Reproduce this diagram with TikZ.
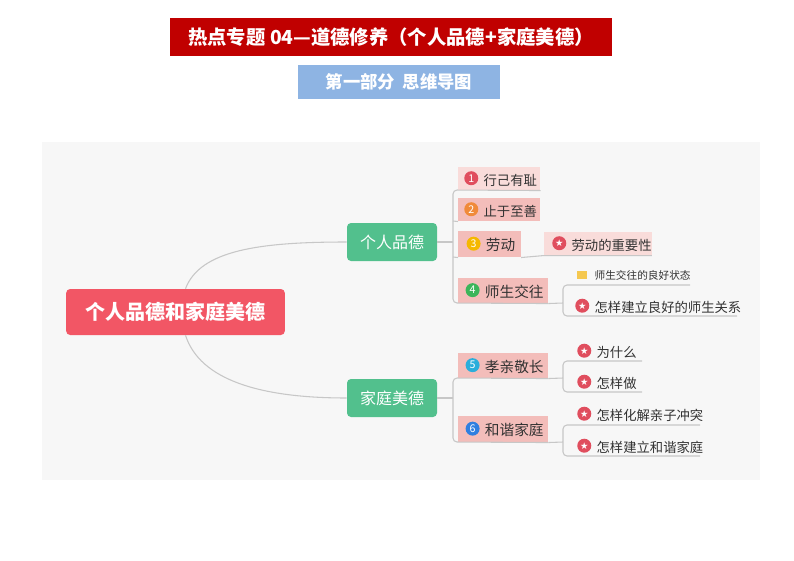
\documentclass[tikz,border=0pt]{standalone}
\usepackage{fontspec}
\setmainfont{Noto Sans CJK SC}
\newfontfamily\djv{DejaVu Sans}
\definecolor{starred}{HTML}{E04E5E}
\definecolor{pkA}{HTML}{F9DCDA}
\definecolor{pkB}{HTML}{F3BDBA}
\definecolor{grn}{HTML}{52C08D}
\definecolor{ttl}{HTML}{C00000}
\definecolor{subb}{HTML}{8EB4E3}
\definecolor{rootc}{HTML}{F25665}
\definecolor{nA}{HTML}{F08A3A}
\definecolor{nB}{HTML}{F5B800}
\definecolor{nC}{HTML}{3CB55A}
\definecolor{nD}{HTML}{2AAEDB}
\definecolor{nE}{HTML}{2F7FE0}
\definecolor{fox}{HTML}{F5C850}
\begin{document}
\begin{tikzpicture}[x=0.75pt,y=-0.75pt,
  ln/.style={draw=black!22,line width=0.8pt},
  leaf/.style={anchor=north west,inner sep=0pt,minimum height=#1*0.75pt,font=\fontsize{10}{10}\selectfont,text=black!80},
  main/.style={rounded corners=3pt,text=white,font=\fontsize{12}{12}\selectfont,inner sep=0pt,minimum width=67.5pt,minimum height=28.5pt},
  num/.style={circle,fill=#1,inner sep=0pt,minimum size=10.5pt,text=white,font=\fontsize{8}{8}\selectfont},
  star/.style={circle,fill=starred,inner sep=0pt,minimum size=10.5pt,text=white,font=\djv\fontsize{7}{7}\selectfont}]
\useasboundingbox (0,0) rectangle (794,561);
\fill[white] (0,0) rectangle (794,561);
% title
\node[fill=ttl,text=white,font=\bfseries\fontsize{14.5}{14.5}\selectfont,minimum width=331.5pt,minimum height=28.5pt,inner sep=0pt] (title) at (391,37) {热点专题 04—道德修养（个人品德+家庭美德）};
\node[fill=subb,text=white,font=\bfseries\fontsize{13}{13}\selectfont,minimum width=151.5pt,minimum height=25pt,inner sep=0pt] (sub) at (399,82) {第一部分\ \ 思维导图};
\fill[black!3] (42,142) rectangle (760,480);
% root
\node[fill=rootc,rounded corners=3pt,text=white,font=\bfseries\fontsize{15}{15}\selectfont,minimum width=164pt,minimum height=34.5pt,inner sep=0pt] (root) at (175.5,312) {个人品德和家庭美德};
\node[main,fill=grn] (p) at (392,242) {个人品德};
\node[main,fill=grn] (f) at (392,398) {家庭美德};
\draw[ln] (root.north) ++(10,0) coordinate (r1) .. controls (200,250) and (260,242) .. (p.west);
\draw[ln] (root.south) ++(10,0) coordinate (r2) .. controls (200,380) and (260,398) .. (f.west);
% personal children
\node[leaf=23,fill=pkA,minimum width=61.5pt] (c1) at (458,167) {\hspace{2pt}\tikz\node[num=starred]{1};\hspace{4pt}行己有耻};
\node[leaf=23,fill=pkB,minimum width=61.5pt] (c2) at (458,198) {\hspace{2pt}\tikz\node[num=nA]{2};\hspace{4pt}止于至善};
\node[leaf=26,fill=pkB,minimum width=47pt,font=\fontsize{11}{11}\selectfont] (c3) at (458,231) {\hspace{2pt}\tikz\node[num=nB]{3};\hspace{4pt}劳动};
\node[leaf=25,fill=pkB,minimum width=67.5pt,font=\fontsize{11}{11}\selectfont] (c4) at (458,278) {\hspace{2pt}\tikz\node[num=nC]{4};\hspace{4pt}师生交往};
\node[leaf=23,fill=pkA,minimum width=78pt] (d3) at (544,232) {\hspace{6pt}\tikz\node[star]{★};\hspace{4pt}劳动的重要性};
\node[leaf=14,font=\fontsize{8}{8}\selectfont] (d41) at (577,268) {\tikz\node[fill=fox,minimum width=7pt,minimum height=6pt,inner sep=0pt]{};\hspace{6pt}师生交往的良好状态};
\node[leaf=20] (d42) at (575,296) {\tikz\node[star]{★};\hspace{4pt}怎样建立良好的师生关系};
\coordinate (pv) at (453,242);
\draw[ln] (p.east) -- (pv);
\draw[ln,rounded corners=3pt] (c1.south east) -- (453,190) -- (453,303) -- (c4.south east);
\draw[ln] (c2.south west) -- (453,221) (c3.south west) -- (453,257);
\draw[ln] (c3.south east) -- (d3.south west) -- (d3.south east);
\draw[ln,rounded corners=3pt] (c4.south east) -- (563,303);
\draw[ln,rounded corners=3pt] (690,285) -- (563,285) -- (563,316) -- (737,316);
% family children
\node[leaf=25,fill=pkB,minimum width=67.5pt,font=\fontsize{11}{11}\selectfont] (c5) at (458,353) {\hspace{2pt}\tikz\node[num=nD]{5};\hspace{4pt}孝亲敬长};
\node[leaf=26,fill=pkB,minimum width=67.5pt,font=\fontsize{11}{11}\selectfont] (c6) at (458,416) {\hspace{2pt}\tikz\node[num=nE]{6};\hspace{4pt}和谐家庭};
\node[leaf=20] (e1) at (577,341) {\tikz\node[star]{★};\hspace{4pt}为什么};
\node[leaf=20] (e2) at (577,372) {\tikz\node[star]{★};\hspace{4pt}怎样做};
\node[leaf=20] (e3) at (577,404) {\tikz\node[star]{★};\hspace{4pt}怎样化解亲子冲突};
\node[leaf=20] (e4) at (577,436) {\tikz\node[star]{★};\hspace{4pt}怎样建立和谐家庭};
\draw[ln] (f.east) -- (453,398);
\draw[ln,rounded corners=3pt] (c5.south east) -- (453,378) -- (453,442) -- (c6.south east);
\draw[ln] (c5.south east) -- (563,378);
\draw[ln,rounded corners=3pt] (642,361) -- (563,361) -- (563,392) -- (642,392);
\draw[ln] (c6.south east) -- (563,442);
\draw[ln,rounded corners=3pt] (700,425) -- (563,425) -- (563,456) -- (700,456);
\end{tikzpicture}
\end{document}
